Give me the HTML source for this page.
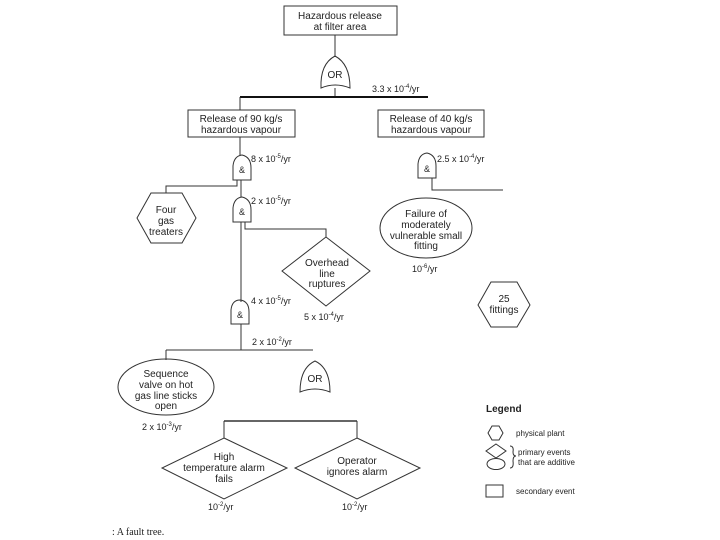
<!DOCTYPE html>
<html><head><meta charset="utf-8"><style>
html,body{margin:0;padding:0;background:#fff}
svg{display:block}
text{font-family:"Liberation Sans",sans-serif;font-size:10px;fill:#222}
.t{text-anchor:middle}
</style></head><body>
<svg width="720" height="540" viewBox="0 0 720 540" xmlns="http://www.w3.org/2000/svg">
<g fill="none" stroke="#333" stroke-width="1">
<!-- top box -->
<rect x="284" y="6" width="113" height="29"/>
<line x1="335" y1="35" x2="335" y2="57"/>
<!-- OR gate 1 -->
<path d="M321,88 Q320,64 335,56 Q350,64 350,88 Q335,82 321,88 Z"/>
<line x1="335" y1="88" x2="335" y2="97"/>
<line x1="240" y1="97" x2="428" y2="97" stroke-width="2" stroke="#111"/>
<line x1="240" y1="97" x2="240" y2="110"/>
<rect x="188" y="110" width="107" height="27"/>
<rect x="378" y="110" width="106" height="27"/>
<line x1="240" y1="137" x2="240" y2="156"/>
<!-- AND 1 -->
<path d="M233,180 L233,166 Q234,156 242,155 Q251,157 251,168 L251,180 Z"/>
<polyline points="237,180 237,186 166,186 166,193"/>
<line x1="241" y1="180" x2="241" y2="197"/>
<!-- hexagon Four gas treaters -->
<polygon points="151,193 182,193 196,218 182,243 151,243 137,218"/>
<!-- AND 2 -->
<path d="M233,222 L233,208 Q234,198 242,197 Q251,199 251,210 L251,222 Z"/>
<line x1="241" y1="222" x2="241" y2="302"/>
<polyline points="245,222 245,229 326,229 326,237"/>
<!-- diamond overhead -->
<polygon points="326,237 370,271 326,306 282,271"/>
<!-- AND 3 -->
<path d="M231,324 L231,310 Q232,300 240,300 Q249,301 249,312 L249,324 Z"/>
<line x1="241" y1="324" x2="241" y2="350"/>
<line x1="166" y1="350" x2="313" y2="350"/>
<line x1="166" y1="350" x2="166" y2="360"/>
<ellipse cx="166" cy="387" rx="48" ry="28"/>
<!-- OR gate 2 -->
<path d="M300,392 Q300,368 315,361 Q330,368 330,392 Q315,386 300,392 Z"/>
<line x1="224" y1="421" x2="357" y2="421" stroke-width="1.5"/>
<line x1="224" y1="421" x2="224" y2="438"/>
<line x1="357" y1="421" x2="357" y2="438"/>
<polygon points="224,438 287,468 224,499 162,468"/>
<polygon points="357,438 420,468 357,499 295,468"/>
<!-- right side -->
<path d="M418,178 L418,164 Q419,154 427,153 Q436,155 436,166 L436,178 Z"/>
<polyline points="432,178 432,190 503,190"/>
<ellipse cx="426" cy="228" rx="46" ry="30"/>
<polygon points="491,282 517,282 530,305 517,327 491,327 478,305"/>
<!-- legend -->
<polygon points="492,426 499,426 503,433 499,440 492,440 488,433"/>
<polygon points="496,444 506,451 496,458 486,451"/>
<ellipse cx="496" cy="464" rx="9" ry="5.5"/>
<path d="M510,446 Q514,446 513,452 Q513,456 516,456 Q513,456 513,461 Q514,468 510,468"/>
<rect x="486" y="485" width="17" height="12"/>
</g>
<text class="t" x="340" y="19">Hazardous release</text>
<text class="t" x="340" y="30">at filter area</text>
<text class="t" x="335" y="78">OR</text>
<text x="372" y="92" style="font-size:9px">3.3 x 10<tspan dy="-4" font-size="6">-4</tspan><tspan dy="4">/yr</tspan></text>
<text class="t" x="241" y="122">Release of 90 kg/s</text>
<text class="t" x="241" y="133">hazardous vapour</text>
<text class="t" x="431" y="122">Release of 40 kg/s</text>
<text class="t" x="431" y="133">hazardous vapour</text>
<text class="t" x="242" y="173" style="font-size:9px">&amp;</text>
<text x="251" y="162" style="font-size:9px">8 x 10<tspan dy="-4" font-size="6">-5</tspan><tspan dy="4">/yr</tspan></text>
<text class="t" x="166" y="213">Four</text>
<text class="t" x="166" y="224">gas</text>
<text class="t" x="166" y="235">treaters</text>
<text class="t" x="242" y="215" style="font-size:9px">&amp;</text>
<text x="251" y="204" style="font-size:9px">2 x 10<tspan dy="-4" font-size="6">-5</tspan><tspan dy="4">/yr</tspan></text>
<text class="t" x="327" y="266">Overhead</text>
<text class="t" x="327" y="277">line</text>
<text class="t" x="327" y="287">ruptures</text>
<text x="304" y="320" style="font-size:9px">5 x 10<tspan dy="-4" font-size="6">-4</tspan><tspan dy="4">/yr</tspan></text>
<text class="t" x="240" y="318" style="font-size:9px">&amp;</text>
<text x="251" y="304" style="font-size:9px">4 x 10<tspan dy="-4" font-size="6">-5</tspan><tspan dy="4">/yr</tspan></text>
<text x="252" y="345" style="font-size:9px">2 x 10<tspan dy="-4" font-size="6">-2</tspan><tspan dy="4">/yr</tspan></text>
<text class="t" x="166" y="377">Sequence</text>
<text class="t" x="166" y="388">valve on hot</text>
<text class="t" x="166" y="399">gas line sticks</text>
<text class="t" x="166" y="409">open</text>
<text x="142" y="430" style="font-size:9px">2 x 10<tspan dy="-4" font-size="6">-3</tspan><tspan dy="4">/yr</tspan></text>
<text class="t" x="315" y="382">OR</text>
<text class="t" x="224" y="460">High</text>
<text class="t" x="224" y="471">temperature alarm</text>
<text class="t" x="224" y="482">fails</text>
<text class="t" x="357" y="464">Operator</text>
<text class="t" x="357" y="475">ignores alarm</text>
<text x="208" y="510" style="font-size:9px">10<tspan dy="-4" font-size="6">-2</tspan><tspan dy="4">/yr</tspan></text>
<text x="342" y="510" style="font-size:9px">10<tspan dy="-4" font-size="6">-2</tspan><tspan dy="4">/yr</tspan></text>
<text class="t" x="427" y="172" style="font-size:9px">&amp;</text>
<text x="437" y="162" style="font-size:9px">2.5 x 10<tspan dy="-4" font-size="6">-4</tspan><tspan dy="4">/yr</tspan></text>
<text class="t" x="426" y="217">Failure of</text>
<text class="t" x="426" y="228">moderately</text>
<text class="t" x="426" y="239">vulnerable small</text>
<text class="t" x="426" y="249">fitting</text>
<text x="412" y="272" style="font-size:9px">10<tspan dy="-4" font-size="6">-6</tspan><tspan dy="4">/yr</tspan></text>
<text class="t" x="504" y="302">25</text>
<text class="t" x="504" y="313">fittings</text>
<text x="486" y="412" style="font-weight:bold;font-size:10px">Legend</text>
<text x="516" y="436" style="font-size:8px">physical plant</text>
<text x="518" y="455" style="font-size:8px">primary events</text>
<text x="518" y="465" style="font-size:8px">that are additive</text>
<text x="516" y="494" style="font-size:8px">secondary event</text>
<text x="112" y="535" style="font-family:'Liberation Serif',serif;font-size:10px">: A fault tree.</text>
</svg>
</body></html>
